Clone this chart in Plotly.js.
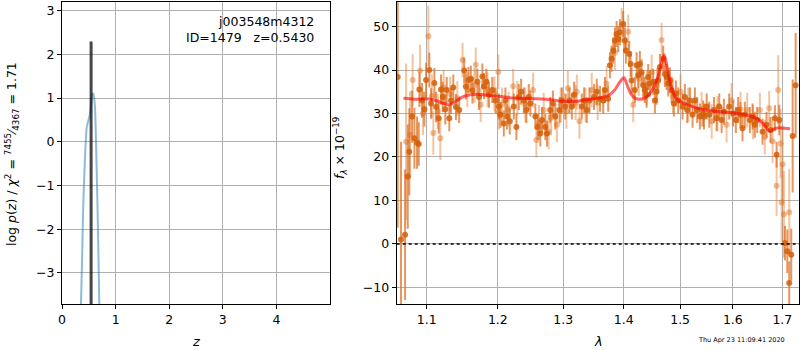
<!DOCTYPE html>
<html><head><meta charset="utf-8">
<script src="https://cdn.plot.ly/plotly-3.0.1.min.js"></script>
<style>html,body{margin:0;padding:0;background:#fff}#plot{width:800px;height:350px}</style>
</head><body><div id="plot"></div>
<script>
// ---- left panel: p(z)
const pzZ = [0.345, 0.354, 0.373, 0.397, 0.429, 0.461, 0.491, 0.522, 0.565, 0.584, 0.616, 0.634, 0.659, 0.677, 0.696, 0.705];
const pzLogP = [-4.3, -3.71, -2.79, -1.42, -0.36, 0.33, 0.48, 0.63, 1.09, 1.10, 0.78, 0.02, -1.27, -2.41, -3.71, -4.3];
const zBest = [0.543, 0.543];
const zBestY = [-4.5, 2.29];
const zTicks = [0, 1, 2, 3, 4];
const pTicks = [-3, -2, -1, 0, 1, 2, 3];

// ---- right panel: spectrum (two beams)
const lamA = [1.0616,1.0659,1.0712,1.0747,1.0768,1.0804,1.0835,1.0870,1.0893,1.0901,1.0937,1.0968,1.0991,1.1035,1.1058,1.1103,1.1126,1.1162,1.1194,1.1217,1.1253,1.1272,1.1308,1.1331,1.1363,1.1400,1.1446,1.1516,1.1539,1.1577,1.1610,1.1633,1.1704,1.1727,1.1775,1.1798,1.1833,1.1870,1.1919,1.1968,1.2015,1.2038,1.2088,1.2112,1.2137,1.2177,1.2237,1.2276,1.2312,1.2347,1.2388,1.2427,1.2463,1.2488,1.2564,1.2601,1.2641,1.2667,1.2718,1.2744,1.2795,1.2837,1.2874,1.2943,1.2979,1.3032,1.3101,1.3138,1.3175,1.3299,1.3337,1.3381,1.3425,1.3500,1.3545,1.3600,1.3653,1.3681,1.3736,1.3765,1.3793,1.3821,1.3849,1.3878,1.3905,1.3934,1.3991,1.4020,1.4037,1.4094,1.4118,1.4135,1.4192,1.4222,1.4250,1.4279,1.4308,1.4337,1.4366,1.4397,1.4425,1.4456,1.4514,1.4544,1.4573,1.4602,1.4634,1.4693,1.4723,1.4754,1.4783,1.4814,1.4845,1.4886,1.4923,1.4965,1.5045,1.5088,1.5131,1.5181,1.5231,1.5274,1.5317,1.5367,1.5430,1.5445,1.5496,1.5545,1.5635,1.5686,1.5736,1.5782,1.5826,1.5929,1.6006,1.6059,1.6104,1.6152,1.6191,1.6237,1.6337,1.6391,1.6437,1.6484,1.6593,1.6674,1.6757,1.6846,1.6881,1.6935,1.7054,1.7103,1.7144,1.7186,1.7216,1.7279];
const fluxA = [38.4,1.0,2.1,15.5,21.2,29.3,24.3,23.3,23.0,35.5,33.0,31.0,37.7,40.0,32.3,37.0,31.5,28.9,35.5,33.8,31.0,35.4,28.9,33.0,36.0,31.5,30.8,39.9,36.2,37.7,38.0,35.3,37.3,33.8,38.5,36.3,37.3,34.3,35.4,33.0,31.6,29.7,27.7,33.0,29.3,28.2,31.6,26.9,33.8,35.0,33.0,30.8,33.8,32.3,29.3,26.9,25.4,28.5,26.9,25.4,30.8,32.3,29.3,30.8,33.0,31.6,33.0,31.6,34.3,31.6,33.0,30.8,33.0,33.8,35.0,33.4,33.0,35.4,33.4,41.1,42.6,44.5,46.8,48.3,47.1,48.7,50.6,46.8,44.5,43.7,41.4,37.6,35.4,41.1,38.8,41.4,39.5,36.5,35.4,34.3,38.4,36.9,37.3,33.0,35.0,37.6,40.7,42.6,39.1,38.4,36.9,37.6,35.4,32.3,34.6,33.0,31.6,33.8,30.8,33.0,29.7,33.0,30.8,29.3,30.0,29.3,31.6,29.7,30.8,28.9,31.6,28.5,30.4,31.6,30.0,28.5,30.8,29.7,26.6,29.7,28.5,29.3,27.4,28.5,25.8,27.4,26.2,28.9,20.5,28.5,0.2,-1.7,-9.0,-2.5,24.8,36.5];
const errA = [34.7,22.5,15,12,10,6,7,6,5,4,4,4,4,4,3.5,3.5,3.5,3.5,3.5,3.5,3.5,3,3,3,3,3,3,3,3,3,3,3,3,3,3,3,3,3,3,3,3,3,3,3,3,3,3,3,3,3,3,3,3,3,3,3,3,3,3,3,3,3,3,3,3,3,3,3,3,3,3,3,3,3,3,3,3,3,3,3,3,3,3,3,3,3,3,3,3,3,3,3,3,3,3,3,3,3,3,3,3,3,3,3,3,3,3,3,3,3,3,3,3,3,3,3,3,3,3,3,3,3,3,3,3,3,3,3,3,3,3,3,3,3,3,3,3,3,3,3,3,3,3,3,3,3,3,3,3,3.5,4,5,5,6,13,12,9,10,19,31];

const lamB = [1.0725,1.0777,1.0812,1.0910,1.0950,1.1022,1.1070,1.1089,1.1150,1.1184,1.1230,1.1320,1.1420,1.1493,1.1560,1.1660,1.1680,1.1751,1.1850,1.1950,1.2008,1.2017,1.2060,1.2160,1.2227,1.2290,1.2410,1.2529,1.2580,1.2620,1.2693,1.2770,1.2810,1.2900,1.2960,1.3050,1.3074,1.3200,1.3218,1.3262,1.3360,1.3462,1.3560,1.3709,1.3850,1.3964,1.4077,1.4163,1.4260,1.4400,1.4486,1.4580,1.4664,1.4870,1.5009,1.5150,1.5400,1.5591,1.5700,1.5878,1.5975,1.6150,1.6283,1.6400,1.6538,1.6640,1.6728,1.6798,1.6881,1.6914,1.6964,1.6985,1.7006,1.7033,1.7144];
const fluxB = [23.5,25.1,37.7,39.9,30.0,47.8,34.0,25.5,30.5,24.3,36.0,34.5,33.5,42.3,35.5,36.5,41.2,32.0,35.5,34.5,39.6,30.3,32.0,31.0,36.3,33.5,32.0,35.4,23.9,28.0,30.8,25.8,29.0,27.4,32.0,30.5,35.8,32.5,35.0,28.2,32.0,35.4,32.5,36.9,44.0,50.3,48.8,32.0,38.0,36.0,39.5,36.5,46.9,34.0,35.0,32.0,31.0,28.2,30.0,27.4,33.0,31.0,30.8,28.0,30.8,24.6,31.2,23.6,13.4,35.4,23.1,9.5,18.3,6.8,7.3];
const errB = [18,10,6,6,5,7,5,5,4,5,4,4,4,4,4,4,4,4,4,4,4,4,4,4,4,4,4,4,4,4,4,4,4,4,4,4,4,4,4,4,4,4,4,4,4,4,4,4,4,4,4,4,4,4,4,4,4,4,4,4,4,4,4,4,4,4,4,5,7,8,8,9,9,10,10];

const lamModel = [1.069,1.085,1.100,1.112,1.122,1.130,1.138,1.148,1.160,1.175,1.190,1.205,1.220,1.240,1.260,1.280,1.300,1.320,1.340,1.360,1.375,1.385,1.392,1.398,1.401,1.406,1.413,1.420,1.428,1.436,1.445,1.453,1.460,1.466,1.471,1.476,1.481,1.488,1.497,1.510,1.530,1.560,1.590,1.620,1.640,1.655,1.665,1.674,1.682,1.692,1.705,1.716];
const fluxModel = [33.5,33.3,33.4,33.0,32.4,32.0,32.6,33.7,34.3,34.4,34.1,33.9,33.6,33.5,33.4,33.2,32.8,32.8,33.2,33.6,34.2,35.5,37.0,38.0,38.2,36.5,34.4,33.5,33.3,33.5,34.5,36.2,38.5,41.5,43.5,41.0,37.5,34.5,33.0,32.2,31.3,30.6,30.3,29.8,29.2,28.3,27.0,25.9,26.4,26.7,26.6,26.5];

const lamTicks = [1.1, 1.2, 1.3, 1.4, 1.5, 1.6, 1.7];
const fTicks = [-10, 0, 10, 20, 30, 40, 50];

const FONT = 'DejaVu Sans, sans-serif';
const tickFont = {family: FONT, size: 12.5, color: '#000'};
const axBase = {
  showline: true, mirror: true, linecolor: '#000', linewidth: 1,
  ticks: 'outside', ticklen: 4, tickwidth: 1, tickcolor: '#000',
  showgrid: true, gridcolor: '#b0b0b0', gridwidth: 1, zeroline: false,
  tickfont: tickFont
};

const traces = [
  {x: pzZ, y: pzLogP, xaxis: 'x', yaxis: 'y', mode: 'lines', type: 'scatter',
   line: {color: 'rgba(31,119,180,0.5)', width: 2, shape: 'spline', smoothing: 0.5}, hoverinfo: 'skip'},
  {x: zBest, y: zBestY, xaxis: 'x', yaxis: 'y', mode: 'lines', type: 'scatter',
   line: {color: 'rgba(0,0,0,0.72)', width: 3}, hoverinfo: 'skip'},
  {x: lamB, y: fluxB, xaxis: 'x2', yaxis: 'y2', mode: 'markers', type: 'scatter',
   marker: {color: 'rgba(222,110,30,0.45)', size: 6},
   error_y: {type: 'data', array: errB, visible: true, color: 'rgba(228,125,45,0.45)', thickness: 2, width: 0}},
  {x: lamA, y: fluxA, xaxis: 'x2', yaxis: 'y2', mode: 'markers', type: 'scatter',
   marker: {color: 'rgba(212,95,8,0.85)', size: 6},
   error_y: {type: 'data', array: errA, visible: true, color: 'rgba(220,105,25,0.7)', thickness: 2, width: 0}},
  {x: lamModel, y: fluxModel, xaxis: 'x2', yaxis: 'y2', mode: 'lines', type: 'scatter',
   line: {color: 'rgba(255,0,0,0.6)', width: 3, shape: 'spline', smoothing: 0.6}, hoverinfo: 'skip'}
];

const layout = {
  width: 800, height: 350, showlegend: false,
  margin: {l: 0, r: 0, t: 0, b: 0},
  paper_bgcolor: '#fff', plot_bgcolor: '#fff',
  font: {family: FONT, color: '#000'},
  xaxis: Object.assign({}, axBase, {domain: [0.0775, 0.4125], range: [0, 5.0],
    tickvals: zTicks, ticktext: zTicks.map(String), anchor: 'y'}),
  yaxis: Object.assign({}, axBase, {domain: [0.1314, 0.9943], range: [-3.71, 3.196],
    tickvals: pTicks, ticktext: pTicks.map(v => v < 0 ? '\u2212' + Math.abs(v) : String(v)), anchor: 'x'}),
  xaxis2: Object.assign({}, axBase, {domain: [0.4959, 0.99875], type: 'log',
    range: [Math.log10(1.0603), Math.log10(1.735)],
    tickvals: lamTicks, ticktext: lamTicks.map(v => v.toFixed(1)), anchor: 'y2'}),
  yaxis2: Object.assign({}, axBase, {domain: [0.1314, 0.9943], range: [-13.83, 55.66],
    tickvals: fTicks, ticktext: fTicks.map(v => v < 0 ? '\u2212' + Math.abs(v) : String(v)), anchor: 'x2'}),
  shapes: [
    {type: 'line', xref: 'x2 domain', yref: 'y2', x0: 0, x1: 1, y0: 0, y1: 0,
     line: {color: '#000', width: 1.5, dash: 'dot'}}
  ],
  annotations: [
    {xref: 'paper', yref: 'paper', x: 316/800, y: 1 - 12/350, xanchor: 'right', yanchor: 'top',
     align: 'right', showarrow: false, text: 'j003548m4312<br>ID=1479&nbsp;&nbsp;&nbsp;z=0.5430',
     font: {family: FONT, size: 12.5, color: '#000'}},
    {xref: 'paper', yref: 'paper', x: 196/800, y: 1 - 341/350, xanchor: 'center', yanchor: 'middle',
     showarrow: false, text: '<i>z</i>', font: {family: FONT, size: 13, color: '#000'}},
    {xref: 'paper', yref: 'paper', x: 598/800, y: 1 - 341/350, xanchor: 'center', yanchor: 'middle',
     showarrow: false, text: '<i>λ</i>', font: {family: FONT, size: 13, color: '#000'}},
    {xref: 'paper', yref: 'paper', x: 12/800, y: 1 - 154/350, xanchor: 'center', yanchor: 'middle',
     showarrow: false, textangle: -90,
     text: 'log <i>p</i>(<i>z</i>) / <i>χ</i><sup>2</sup> = <sup>7455</sup>⁄<sub>4367</sub> = 1.71',
     font: {family: FONT, size: 12.5, color: '#000'}},
    {xref: 'paper', yref: 'paper', x: 340/800, y: 1 - 148/350, xanchor: 'center', yanchor: 'middle',
     showarrow: false, textangle: -90,
     text: '<i>f</i><sub><i>λ</i></sub> × 10<sup>−19</sup>',
     font: {family: FONT, size: 12.5, color: '#000'}},
    {xref: 'paper', yref: 'paper', x: 787/800, y: 1 - 339.5/350, xanchor: 'right', yanchor: 'middle',
     showarrow: false, text: 'Thu Apr 23 11:09:41 2020',
     font: {family: FONT, size: 6.5, color: '#000'}}
  ]
};

Plotly.newPlot('plot', traces, layout, {staticPlot: true, displayModeBar: false});
</script></body></html>
